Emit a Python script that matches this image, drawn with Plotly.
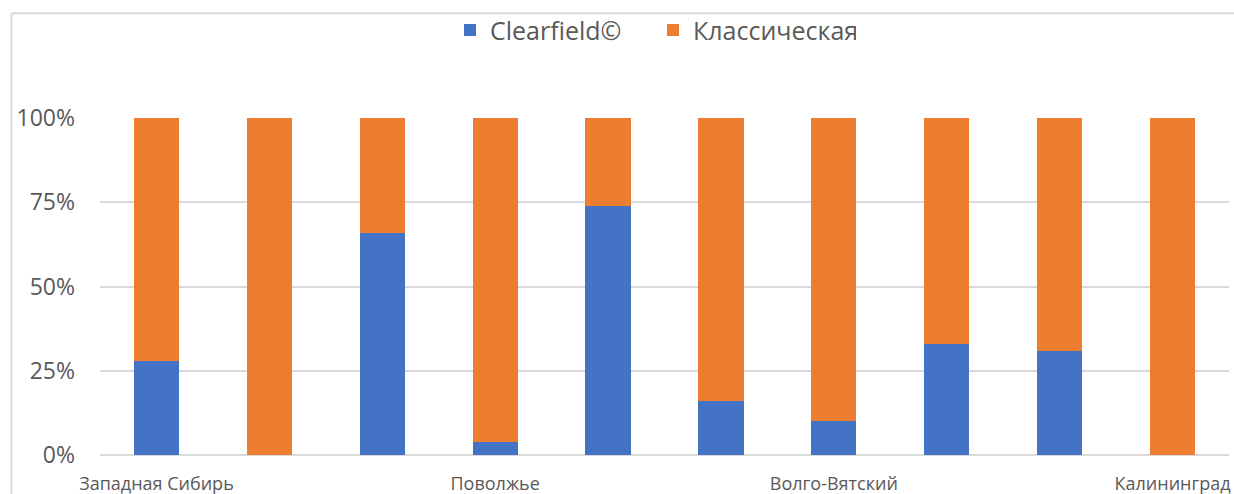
import plotly.graph_objects as go

positions = [0, 1, 2, 3, 4, 5, 6, 7, 8, 9]
tick_positions = [0, 3, 6, 9]
tick_labels = ["Западная Сибирь", "Поволжье", "Волго-Вятский", "Калининград"]
y_ticks = [0, 25, 50, 75, 100]
y_tick_labels = ["0%", "25%", "50%", "75%", "100%"]
clearfield = [28, 0, 66, 4, 74, 16, 10, 33, 31, 0]
classic = [72, 100, 34, 96, 26, 84, 90, 67, 69, 100]

W, H = 1234, 494
L, R, T, B = 100, 5, 118, 38.5
pw, ph = W - L - R, H - T - B

def px(x):
    return (x - L) / pw

def py(y):
    return (H - B - y) / ph

fig = go.Figure()
fig.add_trace(go.Bar(x=positions, y=clearfield, name="Clearfield©",
                     marker=dict(color="#4472C4", line=dict(width=0)), width=0.4))
fig.add_trace(go.Bar(x=positions, y=classic, name="Классическая",
                     marker=dict(color="#ED7D31", line=dict(width=0)), width=0.4))

gray = "#d9d9d9"
fig.update_layout(
    width=W, height=H,
    barmode="stack",
    margin=dict(l=L, r=R, t=T, b=B),
    paper_bgcolor="white", plot_bgcolor="white",
    font=dict(family="Open Sans, Noto Sans, sans-serif", color="#595959"),
    showlegend=True,
    legend=dict(orientation="h", x=px(450), xanchor="left", y=py(30), yanchor="middle",
                font=dict(size=25, color="#595959"), itemwidth=30,
                entrywidth=158, entrywidthmode="pixels",
                bgcolor="rgba(0,0,0,0)", traceorder="normal"),
    xaxis=dict(range=[-0.5, 9.5], tickvals=tick_positions, ticktext=tick_labels,
               showgrid=False, zeroline=False, showline=False, ticks="",
               tickfont=dict(size=18), ticklabelstandoff=16, fixedrange=True,
               automargin=False),
    yaxis=dict(range=[0, 100], tickmode="array", tickvals=y_ticks, ticktext=y_tick_labels,
               showgrid=True, gridcolor=gray, gridwidth=2,
               zeroline=True, zerolinecolor=gray, zerolinewidth=2,
               showline=False, ticks="", tickfont=dict(size=23), ticklabelstandoff=24,
               automargin=False),
    shapes=[
        dict(type="line", xref="paper", yref="paper", x0=px(11.5), x1=px(1240), y0=py(13), y1=py(13),
             line=dict(color=gray, width=2), layer="below"),
        dict(type="line", xref="paper", yref="paper", x0=px(11.5), x1=px(11.5), y0=py(13), y1=py(500),
             line=dict(color=gray, width=2), layer="below"),
    ],
)

fig.write_html("out.html")
